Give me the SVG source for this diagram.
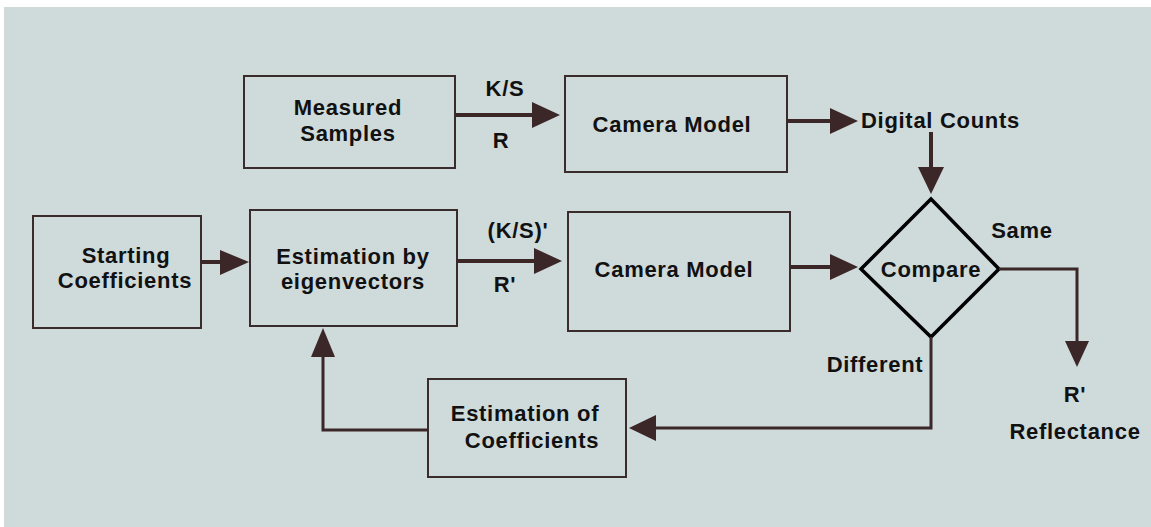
<svg xmlns="http://www.w3.org/2000/svg" width="1151" height="527" viewBox="0 0 1151 527">
<style>
.box{fill:none;stroke:#3a2c2c;stroke-width:2}
.dia{fill:none;stroke:#000;stroke-width:3.5;stroke-linejoin:miter}
.t{font-family:"Liberation Sans",Arial,sans-serif;font-weight:bold;font-size:22px;fill:#111;letter-spacing:0.7px}
.c{text-anchor:middle}
.ln{fill:none;stroke:#3b2628;stroke-width:4}
.ln3{fill:none;stroke:#3b2628;stroke-width:3}
.ah{fill:#3b2628}
</style>
<rect x="0" y="0" width="1151" height="527" fill="#ffffff"/>
<rect x="4" y="7" width="1147" height="520" fill="#cfdadb"/>

<g id="measured-samples">
<rect class="box" x="244" y="76" width="211" height="92"/>
<text class="t c" x="348" y="115">Measured</text>
<text class="t c" x="348" y="141">Samples</text>
</g>
<g id="camera-model-1">
<rect class="box" x="565" y="76" width="222" height="96"/>
<text class="t c" x="672" y="132">Camera Model</text>
</g>
<g id="digital-counts">
<text class="t" x="861" y="128">Digital Counts</text>
</g>
<g id="starting-coefficients">
<rect class="box" x="33" y="216" width="168" height="112"/>
<text class="t c" x="126" y="263">Starting</text>
<text class="t c" x="125" y="288">Coefficients</text>
</g>
<g id="estimation-eigenvectors">
<rect class="box" x="250" y="210" width="207" height="116"/>
<text class="t c" x="353" y="264">Estimation by</text>
<text class="t c" x="353" y="289">eigenvectors</text>
</g>
<g id="camera-model-2">
<rect class="box" x="568" y="212" width="222" height="119"/>
<text class="t c" x="674" y="277">Camera Model</text>
</g>
<g id="compare">
<polygon class="dia" points="931,199 999,269 931,337 861,269"/>
<text class="t c" x="931" y="277">Compare</text>
</g>
<g id="estimation-coefficients">
<rect class="box" x="428" y="379" width="198" height="98"/>
<text class="t c" x="525" y="421">Estimation of</text>
<text class="t c" x="532" y="448">Coefficients</text>
</g>
<g id="result">
<text class="t c" x="1075" y="402">R'</text>
<text class="t c" x="1075" y="439">Reflectance</text>
</g>

<g id="connectors">
<line class="ln" x1="455" y1="115" x2="534" y2="115"/>
<polygon class="ah" points="532,102 560,115 532,128"/>
<text class="t c" x="505" y="96">K/S</text>
<text class="t c" x="501" y="148">R</text>

<line class="ln" x1="787" y1="121" x2="832" y2="121"/>
<polygon class="ah" points="830,108 858,121 830,134"/>

<line class="ln" x1="931" y1="132" x2="931" y2="169"/>
<polygon class="ah" points="918,167 931,194 944,167"/>

<line class="ln" x1="201" y1="262" x2="222" y2="262"/>
<polygon class="ah" points="220,250 249,262 220,275"/>

<line class="ln" x1="457" y1="261" x2="536" y2="261"/>
<polygon class="ah" points="534,248 562,261 534,274"/>
<text class="t c" x="518" y="238">(K/S)'</text>
<text class="t c" x="505" y="292">R'</text>

<line class="ln" x1="790" y1="267" x2="832" y2="267"/>
<polygon class="ah" points="830,254 858,267 830,280"/>

<polyline class="ln3" points="999,269 1077,269 1077,343"/>
<polygon class="ah" points="1065,341 1077,367 1089,341"/>
<text class="t c" x="1022" y="238">Same</text>

<polyline class="ln3" points="931,337 931,428 654,428"/>
<polygon class="ah" points="656,415 629,428 656,441"/>
<text class="t c" x="875" y="372">Different</text>

<polyline class="ln3" points="428,430 323,430 323,355"/>
<polygon class="ah" points="311,357 323,328 335,357"/>
</g>
</svg>
